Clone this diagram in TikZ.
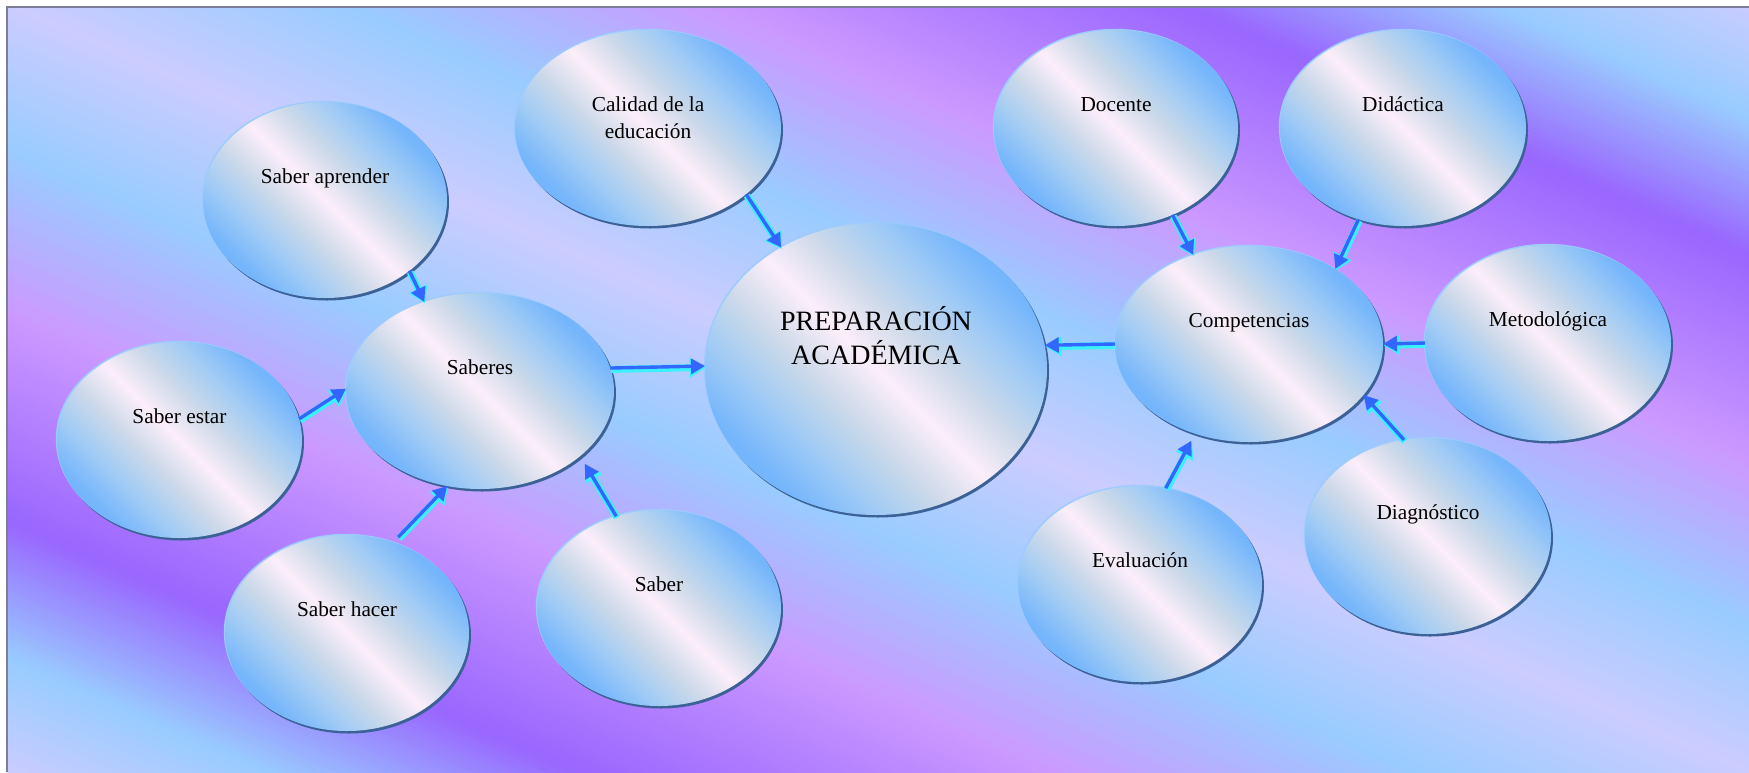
\documentclass[tikz,border=0pt]{standalone}
\usepackage{fontspec}
\setmainfont{Liberation Serif}
\usetikzlibrary{shapes.geometric,arrows.meta}
\definecolor{cLav}{HTML}{CCCCFF}
\definecolor{cLB}{HTML}{99CCFF}
\definecolor{cPP}{HTML}{CC99FF}
\definecolor{cDP}{HTML}{9966FF}
\definecolor{bB}{HTML}{74B5FC}
\definecolor{bL}{HTML}{A0CBF5}
\definecolor{bG}{HTML}{CCD9E9}
\definecolor{bP}{HTML}{FCEEFA}
\definecolor{rimDark}{HTML}{3B6197}
\definecolor{rimLight}{HTML}{9DCBFF}
\definecolor{arBlue}{HTML}{3366FF}
\definecolor{arCyan}{HTML}{3CF0FF}
\definecolor{frameGray}{HTML}{7C7E98}
\pgfdeclarehorizontalshading{bubsh}{100bp}{color(0bp)=(bB); color(26bp)=(bB); color(34bp)=(bL); color(42bp)=(bG); color(50bp)=(bP); color(58bp)=(bG); color(66bp)=(bL); color(74bp)=(bB); color(100bp)=(bB)}
\tikzset{
  bub/.style={ellipse, inner sep=0pt, outer sep=0pt, shade, shading=bubsh, shading angle=45},
  rimdark/.style={fill=rimDark},
  rimlight/.style={fill=rimLight},
  txt/.style={font=\fontsize{21.3}{26.8}\selectfont, align=center, inner sep=0pt, anchor=base},
  bigtxt/.style={font=\fontsize{28}{34}\selectfont, align=center, inner sep=0pt, anchor=base},
  arrC/.style={draw=arCyan, line width=7pt, -{Triangle[length=16pt,width=19pt]}, transform canvas={shift={(0.8pt,-1.4pt)}}},
  arrB/.style={draw=arBlue, line width=3.4pt, -{Triangle[length=14pt,width=15pt]}},
}
\newcommand\mybubble[5]{%
  \fill[rimdark] (#2+2,#3+2.5) ellipse [x radius=#4pt, y radius=#5pt];
  \fill[rimlight] (#2-1.2,#3-1.2) ellipse [x radius=#4pt, y radius=#5pt];
  \node[bub, minimum width=2*#4pt, minimum height=2*#5pt] (#1) at (#2,#3) {};
}
\newcommand\myarrow[3][]{%
  \draw[arrC,#1] #2 -- #3;
  \draw[arrB,#1] #2 -- #3;
}
\begin{document}
\begin{tikzpicture}[x=1pt,y=-1pt]
\useasboundingbox (0,0) rectangle (1749,772);
\fill[white] (0,0) rectangle (1749,772);
% background
\begin{scope}
\clip (7,7) rectangle (1749,772);
\fill[cLav] (7,7) rectangle (1749,772);
\foreach \ta/\tb/\ca/\cb in {0/0.19/cLav/cLB, 0.19/0.40/cLB/cPP, 0.40/0.67/cPP/cDP, 0.67/0.85/cDP/cLB, 0.85/1.0/cLB/cLav}{
  \foreach \i in {0,...,29}{
    \pgfmathsetmacro\u{\ta+(\tb-\ta)*\i/30}
    \pgfmathsetmacro\v{\ta+(\tb-\ta)*(\i+1.8)/30}
    \pgfmathsetmacro\p{100*(\i+0.5)/30}
    \fill[\cb!\p!\ca] (0,{-772*\u}) -- (1749,{772*(1-\u)}) -- (1749,{772*(1-\v)}) -- (0,{-772*\v}) -- cycle;
    \fill[\cb!\p!\ca] (0,{772*\u}) -- (1749,{772*(1+\u)}) -- (1749,{772*(1+\v)}) -- (0,{772*\v}) -- cycle;
  }
}
\end{scope}
\draw[frameGray, line width=2pt] (7,772) -- (7,7) -- (1749,7);
% bubbles
\mybubble{sabap}{325}{200}{122}{98}
\mybubble{calidad}{648}{128}{133}{98}
\mybubble{saberes}{480}{391}{134}{98}
\mybubble{sabestar}{179.5}{440}{122.5}{98}
\mybubble{sabhacer}{347}{633}{122}{98}
\mybubble{saber}{659}{608}{122}{98}
\mybubble{prep}{876}{369}{171}{146}
\mybubble{docente}{1116}{128}{122}{98}
\mybubble{didactica}{1403}{128}{123}{98}
\mybubble{comp}{1249}{344}{134}{98}
\mybubble{metod}{1548}{343}{123}{98}
\mybubble{eval}{1140}{584}{122}{98}
\mybubble{diag}{1428}{536}{123}{98}
% texts
\node[txt] (t-sabap) at (325,183) {Saber aprender};
\node[txt] (t-calidad) at (648,138) {Calidad de la\\educación};
\node[txt] (t-saberes) at (480,374) {Saberes};
\node[txt] (t-sabestar) at (179.5,423) {Saber estar};
\node[txt] (t-sabhacer) at (347,616) {Saber hacer};
\node[txt] (t-saber) at (659,591) {Saber};
\node[bigtxt] (t-prep) at (876,364) {PREPARACIÓN\\ACADÉMICA};
\node[txt] (t-docente) at (1116,111) {Docente};
\node[txt] (t-didactica) at (1403,111) {Didáctica};
\node[txt] (t-comp) at (1249,327) {Competencias};
\node[txt] (t-metod) at (1548,326) {Metodológica};
\node[txt] (t-eval) at (1140,567) {Evaluación};
\node[txt] (t-diag) at (1428,519) {Diagnóstico};
% arrows
\myarrow{(sabap.-40.6)}{(saberes.122.4)}
\myarrow{(calidad.-34.9)}{(prep.128.1)}
\myarrow{(saberes.10)}{(prep.179.7)}
\myarrow{(sabestar.10.6)}{(saberes.179.5)}
\myarrow[shorten <=7pt]{(sabhacer.63.9)}{(saberes.-109.7)}
\myarrow[shorten >=9pt]{(saber.115.8)}{(saberes.-33.9)}
\myarrow{(comp.180)}{(prep.8.4)}
\myarrow{(metod.180)}{(comp.0)}
\myarrow{(docente.-57.2)}{(comp.122.1)}
\myarrow{(didactica.-116.3)}{(comp.41)}
\myarrow{(diag.104.3)}{(comp.-24.7)}
\myarrow[shorten >=8pt]{(eval.75.5)}{(comp.-121)}
\end{tikzpicture}
\end{document}
